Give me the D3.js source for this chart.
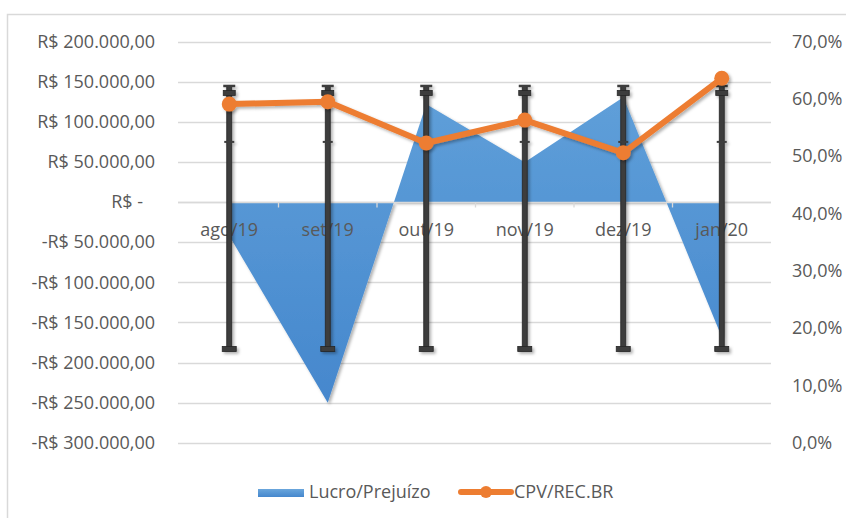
<!DOCTYPE html>
<html>
<head>
<meta charset="utf-8">
<script src="https://cdn.jsdelivr.net/npm/d3@7"></script>
<style>
  body { margin: 0; background: #fff; }
  text { font-family: "Open Sans", "Noto Sans", sans-serif; fill: #595959; }
</style>
</head>
<body>
<div id="chart"></div>
<script>
"use strict";
const categories = ["ago/19", "set/19", "out/19", "nov/19", "dez/19", "jan/20"];
const lucro = [-42000, -250000, 122000, 49500, 130500, -168000];
const cpv = [0.591, 0.595, 0.523, 0.563, 0.506, 0.636];
// dark error bars, same at every month
const barTop = [145000, 145000, 145000, 145000, 145000, 145000];
const barCap = [136000, 136000, 136000, 136000, 136000, 136000];
const barMid = [75000, 75000, 75000, 75000, 75000, 75000];
const barLow = [-183000, -183000, -183000, -183000, -183000, -183000];
const leftTicks = [200000, 150000, 100000, 50000, 0, -50000, -100000, -150000, -200000, -250000, -300000];
const rightTicks = [0, 0.1, 0.2, 0.3, 0.4, 0.5, 0.6, 0.7];

const width = 846, height = 518;
const fontSize = 18;
const svg = d3.select("#chart").append("svg")
    .attr("width", width)
    .attr("height", height);

const defs = svg.append("defs");
const grad = defs.append("linearGradient")
    .attr("id", "areaGrad")
    .attr("gradientUnits", "userSpaceOnUse")
    .attr("x1", 0).attr("y1", 95).attr("x2", 0).attr("y2", 405);
grad.append("stop").attr("offset", "0%").attr("stop-color", "#5f9fd9");
grad.append("stop").attr("offset", "100%").attr("stop-color", "#4587cd");
const lgrad = defs.append("linearGradient")
    .attr("id", "legGrad")
    .attr("x1", 0).attr("y1", 0).attr("x2", 0).attr("y2", 1);
lgrad.append("stop").attr("offset", "0%").attr("stop-color", "#6aa6dc");
lgrad.append("stop").attr("offset", "100%").attr("stop-color", "#4587cd");
const shadow = defs.append("filter").attr("id", "shadow")
    .attr("x", "-10%").attr("y", "-10%").attr("width", "130%").attr("height", "130%");
shadow.append("feDropShadow")
    .attr("dx", 2).attr("dy", 2).attr("stdDeviation", 1.8)
    .attr("flood-color", "#000").attr("flood-opacity", 0.3);

// chart frame
svg.append("path")
    .attr("d", `M7.5,${height} V14.5 H${width}`)
    .attr("fill", "none")
    .attr("stroke", "#d9d9d9")
    .attr("stroke-width", 1.5);

const x = d3.scaleBand().domain(categories).range([180, 771]).padding(0);
const cx = c => x(c) + x.bandwidth() / 2;
const yL = d3.scaleLinear().domain([-300000, 200000]).range([442.8, 41.6]);
const yR = d3.scaleLinear().domain([0, 0.7]).range([442.8, 41.6]);

// gridlines
svg.append("g")
    .selectAll("line")
    .data(leftTicks)
    .enter()
    .append("line")
    .attr("x1", 178).attr("x2", 771)
    .attr("y1", d => Math.round(yL(d)) + 0.5)
    .attr("y2", d => Math.round(yL(d)) + 0.5)
    .attr("stroke", "#d9d9d9")
    .attr("stroke-width", 1.3);

// left axis labels
const loc = d3.formatLocale({ decimal: ",", thousands: ".", grouping: [3], currency: ["R$ ", ""] });
const money = loc.format(",.2f");
const leftAxis = d3.axisLeft(yL)
    .tickValues(leftTicks)
    .tickSize(0)
    .tickPadding(0)
    .tickFormat(d => d === 0 ? "R$ -" : (d < 0 ? "-R$ " + money(-d) : "R$ " + money(d)));
const gl = svg.append("g").attr("transform", "translate(155,0)").call(leftAxis);
gl.select(".domain").remove();
gl.selectAll("text")
    .attr("font-size", fontSize)
    .attr("font-family", "'Open Sans', 'Noto Sans', sans-serif")
    .attr("fill", "#595959")
    .attr("dx", d => d === 0 ? -12 : 0);

// right axis labels
const rightAxis = d3.axisRight(yR)
    .tickValues(rightTicks)
    .tickSize(0)
    .tickPadding(0)
    .tickFormat(d => d3.format(".1f")(d * 100).replace(".", ",") + "%");
const gr = svg.append("g").attr("transform", "translate(792,0)").call(rightAxis);
gr.select(".domain").remove();
gr.selectAll("text")
    .attr("font-size", fontSize)
    .attr("font-family", "'Open Sans', 'Noto Sans', sans-serif")
    .attr("fill", "#595959");

// area
const area = d3.area()
    .x((d, i) => cx(categories[i]))
    .y0(yL(0))
    .y1(d => yL(d));
svg.append("path")
    .datum(lucro)
    .attr("d", area)
    .attr("fill", "url(#areaGrad)")
    .attr("filter", "url(#shadow)");

// category axis
const zeroY = Math.round(yL(0)) + 0.5;
svg.append("line")
    .attr("x1", 178).attr("x2", 771)
    .attr("y1", zeroY).attr("y2", zeroY)
    .attr("stroke", "#d9d9d9").attr("stroke-width", 1.3);
svg.append("g")
    .selectAll("line")
    .data(categories.slice(1))
    .enter()
    .append("line")
    .attr("x1", d => x(d)).attr("x2", d => x(d))
    .attr("y1", zeroY).attr("y2", zeroY + 5)
    .attr("stroke", "#d9d9d9").attr("stroke-width", 1.3);
svg.append("g")
    .selectAll("text")
    .data(categories)
    .enter()
    .append("text")
    .attr("x", d => cx(d))
    .attr("y", 236)
    .attr("text-anchor", "middle")
    .attr("font-size", fontSize)
    .text(d => d);

// error bars
const bars = svg.append("g").attr("filter", "url(#shadow)");
categories.forEach((c, i) => {
    const bx = cx(c);
    const g = bars.append("g");
    g.append("rect")
        .attr("x", bx - 2.5).attr("width", 5)
        .attr("y", yL(barTop[i])).attr("height", yL(barLow[i]) - yL(barTop[i]))
        .attr("fill", "#3c3c3c").attr("stroke", "#262626").attr("stroke-width", 0.8);
    g.append("rect")
        .attr("x", bx - 6).attr("width", 12)
        .attr("y", yL(barTop[i]) - 1).attr("height", 2.5)
        .attr("fill", "#3c3c3c");
    g.append("rect")
        .attr("x", bx - 6).attr("width", 12)
        .attr("y", yL(barCap[i]) - 2.5).attr("height", 5)
        .attr("fill", "#3c3c3c").attr("stroke", "#262626").attr("stroke-width", 0.8);
    g.append("rect")
        .attr("x", bx - 5).attr("width", 10)
        .attr("y", yL(barMid[i]) - 1).attr("height", 2)
        .attr("fill", "#3c3c3c");
    g.append("rect")
        .attr("x", bx - 7).attr("width", 14)
        .attr("y", yL(barLow[i]) - 2.5).attr("height", 5)
        .attr("fill", "#3c3c3c").attr("stroke", "#262626").attr("stroke-width", 0.8);
});

// line
const line = d3.line()
    .x((d, i) => cx(categories[i]))
    .y(d => yR(d));
const lg = svg.append("g").attr("filter", "url(#shadow)");
lg.append("path")
    .datum(cpv)
    .attr("d", line)
    .attr("fill", "none")
    .attr("stroke", "#ed7d31")
    .attr("stroke-width", 6)
    .attr("stroke-linejoin", "round");
lg.selectAll("circle")
    .data(cpv)
    .enter()
    .append("circle")
    .attr("cx", (d, i) => cx(categories[i]))
    .attr("cy", d => yR(d))
    .attr("r", 7.5)
    .attr("fill", "#ed7d31");

// legend
const leg = svg.append("g");
leg.append("rect")
    .attr("x", 258).attr("y", 489).attr("width", 46).attr("height", 8)
    .attr("fill", "url(#legGrad)");
leg.append("text")
    .attr("x", 309).attr("y", 498)
    .attr("font-size", fontSize)
    .text("Lucro/Prejuízo");
leg.append("line")
    .attr("x1", 461).attr("x2", 511).attr("y1", 492).attr("y2", 492)
    .attr("stroke", "#ed7d31").attr("stroke-width", 6).attr("stroke-linecap", "round");
leg.append("circle")
    .attr("cx", 486).attr("cy", 492).attr("r", 6)
    .attr("fill", "#ed7d31");
leg.append("text")
    .attr("x", 514).attr("y", 498)
    .attr("font-size", fontSize)
    .text("CPV/REC.BR");
</script>
</body>
</html>
